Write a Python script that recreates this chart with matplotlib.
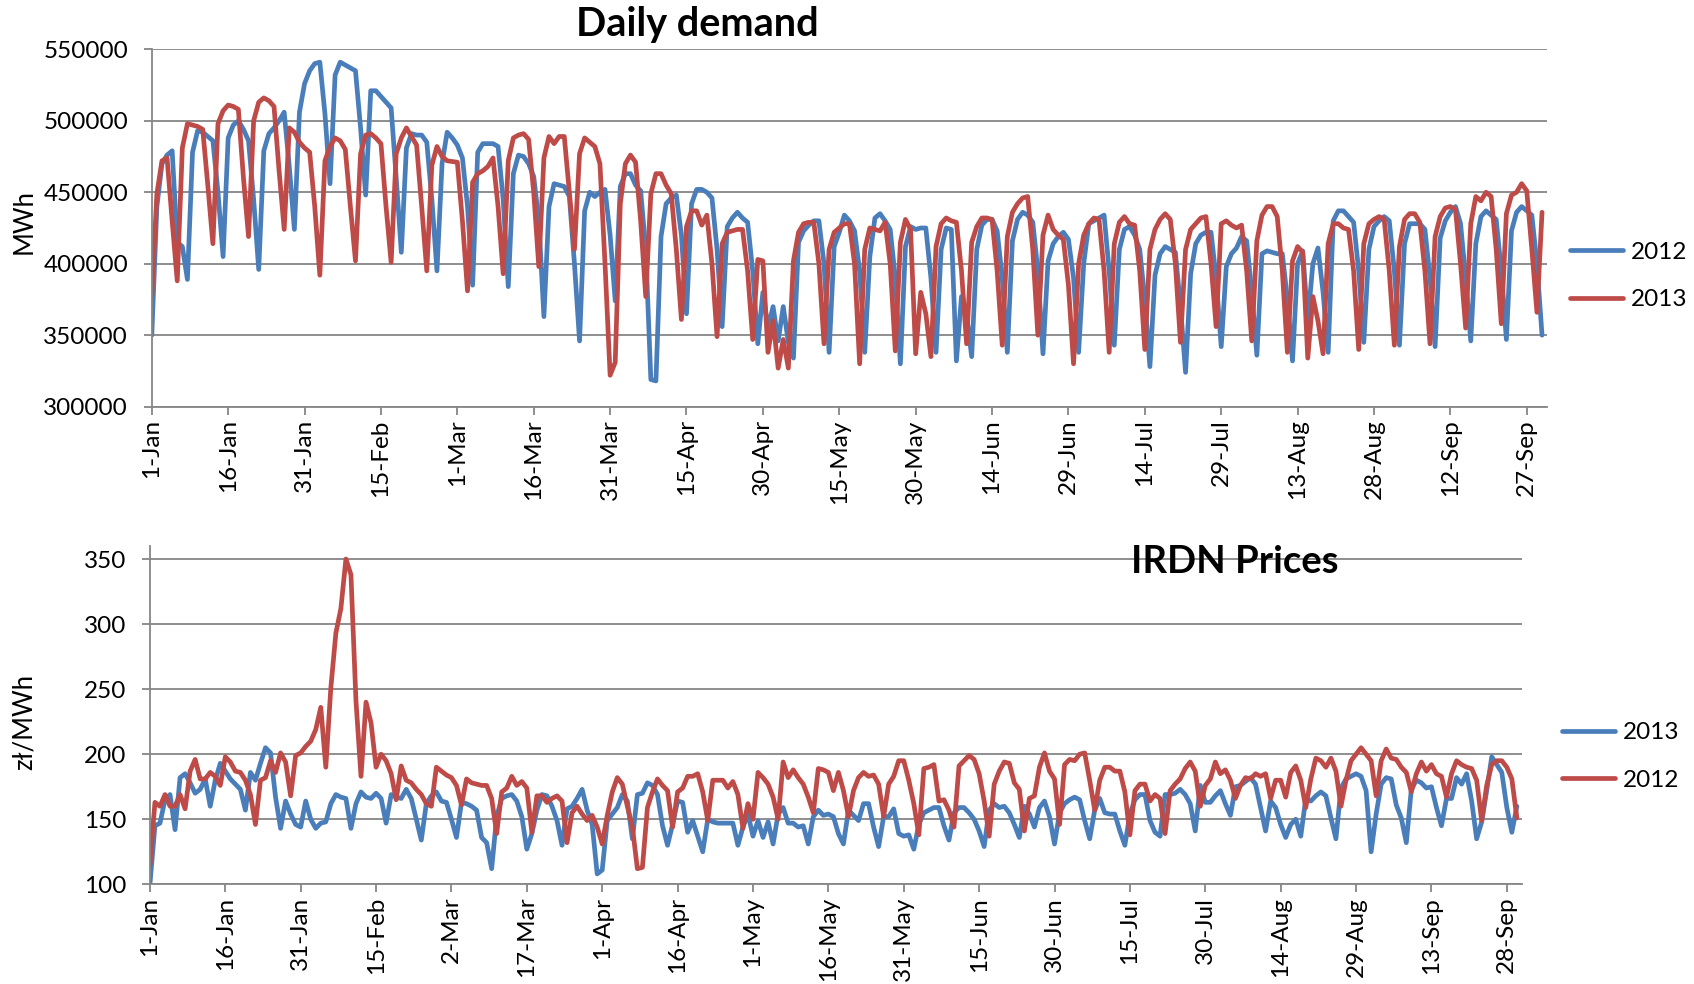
import numpy as np
import matplotlib
matplotlib.use("Agg")
import matplotlib.pyplot as plt
from matplotlib.ticker import StrMethodFormatter

plt.rcParams['font.family'] = ['Lato', 'DejaVu Sans']

# Daily demand, thousand MWh. 2012 rows are Sun..Sat weeks starting 1-Jan
demand_2012 = [
    350, 440, 470, 476, 479, 415, 412,
    389, 478, 493, 492, 489, 486, 450,
    405, 488, 497, 500, 494, 486, 445,
    396, 479, 491, 495, 500, 506, 468,
    424, 506, 526, 535, 540, 541, 505,
    456, 532, 541, 539, 537, 535, 495,
    448, 521, 521, 517, 513, 509, 460,
    408, 481, 491, 490, 490, 485, 445,
    395, 470, 492, 488, 483, 474, 440,
    385, 478, 484, 484, 484, 482, 445,
    384, 463, 476, 475, 470, 461, 430,
    363, 440, 456, 455, 454, 447, 400,
    346, 437, 450, 447, 450, 452, 420,
    374, 454, 463, 463, 455, 451, 410,
    319, 318, 419, 442, 446, 448, 420,
    365, 442, 452, 452, 450, 446, 410,
    356, 426, 432, 436, 432, 429, 395,
    344, 380, 355, 370, 346, 370, 345,
    334, 415, 423, 427, 430, 430, 400,
    338, 412, 422, 434, 430, 423, 395,
    338, 405, 432, 435, 430, 424, 390,
    330, 412, 426, 424, 425, 425, 390,
    338, 410, 425, 424, 332, 377, 365,
    335, 410, 427, 431, 431, 423, 390,
    338, 416, 431, 436, 434, 429, 395,
    337, 402, 414, 419, 422, 417, 390,
    338, 400, 428, 430, 432, 434, 395,
    343, 410, 424, 426, 420, 410, 375,
    328, 392, 407, 412, 410, 408, 370,
    324, 393, 414, 420, 422, 422, 390,
    342, 398, 407, 411, 419, 416, 380,
    336, 407, 409, 408, 407, 407, 375,
    332, 400, 409, 360, 400, 411, 380,
    338, 430, 437, 437, 433, 429, 395,
    345, 410, 426, 430, 433, 430, 395,
    343, 414, 428, 428, 428, 424, 390,
    342, 418, 430, 436, 440, 428, 390,
    346, 414, 433, 437, 434, 431, 395,
    347, 423, 436, 440, 437, 434, 400,
    350,
]

# 2013 from 1-Jan (Tuesday), then Sun..Sat weeks
demand_2013 = [
    377, 449, 472, 474, 430,
    388, 481, 498, 497, 496, 494, 455,
    414, 498, 507, 511, 510, 508, 460,
    419, 500, 513, 516, 514, 510, 465,
    424, 495, 492, 485, 481, 478, 440,
    392, 472, 482, 488, 486, 480, 440,
    402, 477, 490, 491, 488, 484, 440,
    401, 477, 488, 495, 489, 483, 440,
    395, 469, 482, 475, 472, 471, 430,
    381, 457, 463, 465, 468, 474, 440,
    393, 472, 488, 490, 491, 487, 450,
    398, 474, 489, 484, 489, 489, 450,
    410, 477, 488, 485, 482, 470, 400,
    322, 331, 442, 470, 476, 471, 430,
    377, 449, 463, 463, 455, 449, 410,
    361, 426, 437, 437, 427, 434, 400,
    349, 414, 422, 423, 424, 424, 395,
    347, 403, 402, 338, 360, 327, 347,
    327, 402, 422, 428, 429, 429, 400,
    344, 410, 422, 425, 428, 428, 400,
    330, 410, 425, 424, 423, 429, 400,
    339, 415, 431, 424, 337, 380, 365,
    335, 412, 428, 432, 430, 429, 395,
    344, 415, 426, 432, 432, 431, 395,
    343, 419, 436, 442, 446, 447, 410,
    350, 420, 434, 424, 420, 417, 385,
    330, 400, 420, 428, 432, 431, 395,
    338, 414, 429, 433, 428, 427, 395,
    340, 410, 424, 431, 435, 431, 400,
    345, 410, 424, 428, 432, 433, 400,
    356, 428, 430, 427, 425, 427, 395,
    346, 416, 434, 440, 440, 433, 395,
    338, 402, 412, 408, 334, 377, 360,
    337, 414, 428, 428, 425, 424, 395,
    340, 414, 428, 431, 433, 431, 395,
    343, 412, 431, 435, 435, 429, 395,
    344, 419, 433, 439, 440, 438, 400,
    355, 428, 447, 444, 450, 447, 410,
    358, 435, 448, 450, 456, 451, 410,
    366, 436,
]

# IRDN prices, zl/MWh, on the 2013 calendar (1-Jan .. 30-Sep)
price_2013 = [
    100, 145, 147, 165, 169, 142,
    182, 185, 178, 170, 173, 181, 160,
    180, 193, 187, 181, 177, 173, 157,
    186, 180, 193, 205, 201, 167, 143,
    164, 154, 146, 144, 164, 150, 143,
    147, 148, 162, 169, 167, 166, 143,
    162, 171, 167, 166, 170, 166, 147,
    169, 167, 166, 173, 166, 150, 134,
    162, 168, 171, 164, 163, 150, 136,
    163, 162, 160, 157, 136, 132, 112,
    152, 166, 168, 169, 164, 152, 127,
    139, 157, 169, 168, 160, 149, 130,
    158, 160, 166, 173, 157, 146, 108,
    111, 149, 154, 159, 169, 164, 135,
    169, 170, 178, 176, 169, 145, 130,
    146, 164, 163, 140, 149, 137, 125,
    150, 148, 147, 147, 147, 147, 130,
    144, 154, 137, 149, 136, 148, 131,
    154, 159, 147, 147, 144, 145, 131,
    152, 157, 153, 154, 152, 139, 131,
    157, 153, 149, 162, 162, 144, 129,
    152, 152, 158, 139, 137, 138, 127,
    146, 155, 157, 159, 159, 145, 134,
    155, 159, 159, 155, 150, 141, 129,
    157, 162, 159, 160, 155, 146, 136,
    160, 154, 144, 159, 164, 152, 131,
    155, 162, 165, 167, 165, 149, 135,
    157, 166, 155, 154, 154, 141, 130,
    154, 165, 169, 169, 149, 140, 137,
    169, 169, 170, 173, 169, 162, 141,
    176, 163, 163, 168, 172, 162, 153,
    175, 176, 179, 182, 177, 159, 141,
    164, 159, 146, 136, 146, 150, 137,
    166, 164, 168, 171, 168, 151, 135,
    174, 181, 183, 185, 183, 172, 125,
    154, 177, 182, 181, 161, 151, 132,
    173, 180, 178, 174, 175, 159, 145,
    166, 166, 182, 177, 185, 164, 135,
    148, 172, 198, 192, 186, 159, 140,
    160,
]

# 2012 prices put on the same days (29-Feb left out)
price_2012 = [
    115, 163, 160, 169, 160, 160, 169, 158,
    187, 196, 181, 181, 186, 183, 176,
    198, 194, 187, 186, 180, 169, 146,
    180, 182, 195, 186, 201, 194, 168,
    199, 201, 206, 210, 219, 236, 190,
    251, 293, 312, 350, 338, 241, 183,
    240, 224, 190, 200, 195, 185, 165,
    191, 180, 178, 173, 169, 162, 160,
    190, 187, 184, 182, 176, 161,
    181, 178, 177, 176, 176, 166, 139,
    171, 174, 183, 176, 179, 174, 140,
    168, 168, 163, 166, 168, 164, 132,
    155, 160, 154, 149, 153, 144, 131,
    153, 171, 182, 177, 160, 144, 112,
    113, 159, 171, 181, 176, 172, 144,
    171, 174, 183, 183, 185, 171, 149,
    180, 180, 180, 174, 179, 169, 143,
    162, 150, 186, 182, 177, 167, 150,
    194, 182, 188, 182, 177, 167, 155,
    189, 188, 186, 172, 186, 172, 152,
    172, 182, 186, 183, 184, 177, 152,
    177, 183, 195, 195, 180, 162, 138,
    189, 190, 192, 164, 165, 157, 144,
    191, 195, 199, 196, 185, 164, 137,
    177, 187, 194, 193, 178, 173, 141,
    166, 168, 190, 201, 187, 181, 146,
    192, 196, 195, 200, 201, 180, 157,
    180, 190, 190, 187, 187, 171, 138,
    172, 177, 177, 164, 169, 166, 139,
    172, 177, 181, 189, 194, 187, 160,
    176, 181, 194, 185, 188, 180, 166,
    176, 182, 181, 185, 183, 185, 166,
    180, 180, 167, 186, 191, 180, 159,
    181, 197, 195, 190, 197, 187, 160,
    180, 195, 200, 205, 200, 195, 168,
    195, 204, 197, 196, 190, 186, 171,
    185, 194, 187, 192, 185, 183, 167,
    185, 195, 192, 190, 189, 180, 149,
    176, 192, 195, 195, 190, 181, 151,
]

top_labels = ['1-Jan', '16-Jan', '31-Jan', '15-Feb', '1-Mar', '16-Mar', '31-Mar',
              '15-Apr', '30-Apr', '15-May', '30-May', '14-Jun', '29-Jun', '14-Jul',
              '29-Jul', '13-Aug', '28-Aug', '12-Sep', '27-Sep']
bottom_labels = ['1-Jan', '16-Jan', '31-Jan', '15-Feb', '2-Mar', '17-Mar', '1-Apr',
                 '16-Apr', '1-May', '16-May', '31-May', '15-Jun', '30-Jun', '15-Jul',
                 '30-Jul', '14-Aug', '29-Aug', '13-Sep', '28-Sep']

BLUE = '#4A7EBB'
RED = '#BE4B48'
GREY = '#868686'
LW = 3.4
FS = 17.5

fig = plt.figure(figsize=(16.94, 9.84), dpi=100)
ax1 = fig.add_axes([0.0896, 0.5867, 0.8237, 0.3632])
ax2 = fig.add_axes([0.0885, 0.1013, 0.8099, 0.3438])

# top panel: day index on the 2012 calendar; 2013 skips 29-Feb so shifts by one after it
x12 = np.arange(len(demand_2012))
x13 = np.array([i if i < 59 else i + 1 for i in range(len(demand_2013))])
line_kw = dict(lw=LW, solid_joinstyle='round', solid_capstyle='round')
ax1.plot(x12, np.array(demand_2012) * 1000, color=BLUE, label='2012', **line_kw)
ax1.plot(x13, np.array(demand_2013) * 1000, color=RED, label='2013', **line_kw)

ax2.plot(np.arange(len(price_2013)), price_2013, color=BLUE, label='2013', **line_kw)
ax2.plot(np.arange(len(price_2012)), price_2012, color=RED, label='2012', **line_kw)

ax1.set_xlim(0, 274)
ax1.set_ylim(300000, 550000)
ax1.set_yticks(np.arange(300000, 550001, 50000))
ax1.yaxis.set_major_formatter(StrMethodFormatter('{x:.0f}'))
ax1.set_xticks(np.arange(len(top_labels)) * 15)
ax1.set_xticklabels(top_labels, rotation=90)

ax2.set_xlim(0, 273)
ax2.set_ylim(100, 360)
ax2.set_yticks(np.arange(100, 351, 50))
ax2.set_xticks(np.arange(len(bottom_labels)) * 15)
ax2.set_xticklabels(bottom_labels, rotation=90)

for ax in (ax1, ax2):
    ax.yaxis.grid(True, color=GREY, lw=1.3)
    ax.set_axisbelow(True)
    for s in ('top', 'right'):
        ax.spines[s].set_visible(False)
    for s in ('left', 'bottom'):
        ax.spines[s].set_color(GREY)
        ax.spines[s].set_linewidth(1.3)
    ax.tick_params(axis='both', direction='out', length=6, width=1.3, color=GREY,
                   labelsize=FS)
    ax.tick_params(axis='y', pad=11)
    ax.tick_params(axis='x', pad=3)

fig.text(0.4115, 0.9756, 'Daily demand', fontsize=28.5, fontweight='bold',
         ha='center', va='center')
fig.text(0.729, 0.4289, 'IRDN Prices', fontsize=27.5, fontweight='bold',
         ha='center', va='center')
fig.text(0.0142, 0.7754, 'MWh', fontsize=FS + 1, rotation=90, ha='center', va='center')
fig.text(0.0142, 0.2663, 'zł/MWh', fontsize=FS + 1, rotation=90, ha='center', va='center')

leg_kw = dict(frameon=False, fontsize=FS, handlelength=2.2, handletextpad=0.3,
              labelspacing=1.1, borderpad=0, borderaxespad=0, loc='center left')
h, l = ax1.get_legend_handles_labels()
fig.legend(h, l, bbox_to_anchor=(0.9268, 0.7195), **leg_kw)
h, l = ax2.get_legend_handles_labels()
fig.legend(h, l, bbox_to_anchor=(0.922, 0.2312), **leg_kw)

fig.savefig('out.png', dpi=100, facecolor='white')
